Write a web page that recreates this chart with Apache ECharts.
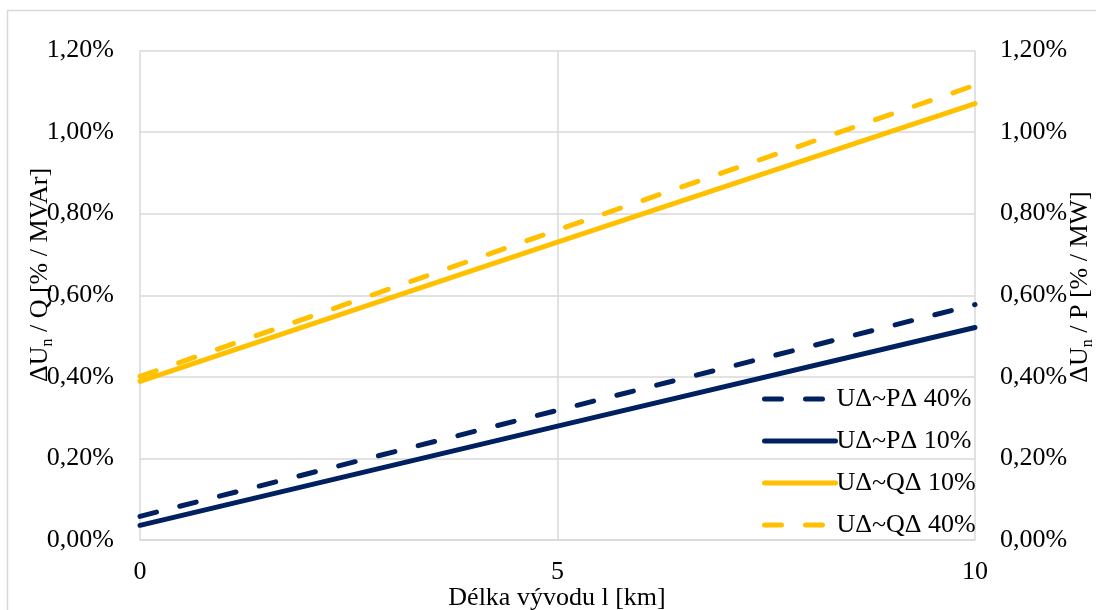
<!DOCTYPE html>
<html>
<head>
<meta charset="utf-8">
<script src="https://cdn.jsdelivr.net/npm/echarts@6/dist/echarts.min.js"></script>
<style>
  html, body { margin: 0; padding: 0; background: #ffffff; }
  #chart { width: 1096px; height: 610px; }
</style>
</head>
<body>
<div id="chart"></div>
<script>
// Feeder length [km]
const distanceKm = [0, 5, 10];

// Voltage change per unit of power [%]
const pDelta40 = [0.058, 0.318, 0.577];
const pDelta10 = [0.036, 0.279, 0.521];
const qDelta10 = [0.389, 0.730, 1.070];
const qDelta40 = [0.401, 0.760, 1.115];

const seriesNames = ['UΔ~PΔ 40%', 'UΔ~PΔ 10%', 'UΔ~QΔ 10%', 'UΔ~QΔ 40%'];

const yTicks = { min: 0, max: 1.2, step: 0.2 };
const xTicks = { min: 0, max: 10, step: 5 };

const NAVY = '#002060';
const GOLD = '#FFC000';
const GRID = '#d9d9d9';
const FONT = "'Liberation Serif', 'Times New Roman', serif";
const FS = 26;
const LW = 5;
const DASH = [17, 24];

const pct = v => v.toFixed(2).replace('.', ',') + '%';
const pairs = ys => distanceKm.map((x, i) => [x, ys[i]]);

function lineSeries(name, values, color, dashed, yAxisIndex) {
  return {
    name: name,
    type: 'line',
    yAxisIndex: yAxisIndex,
    data: pairs(values),
    showSymbol: false,
    silent: true,
    lineStyle: {
      color: color,
      width: LW,
      type: dashed ? DASH : 'solid',
      cap: 'round'
    },
    itemStyle: { color: color }
  };
}

const valueAxisY = position => ({
  type: 'value',
  position: position,
  min: yTicks.min,
  max: yTicks.max,
  interval: yTicks.step,
  axisLine: { show: false },
  axisTick: { show: false },
  splitLine: { show: position === 'left', lineStyle: { color: GRID, width: 1.5 } },
  axisLabel: {
    formatter: pct,
    color: '#000',
    fontFamily: FONT,
    fontSize: FS,
    margin: position === 'left' ? 26 : 25
  }
});

const titleRich = {
  t: { fontFamily: FONT, fontSize: FS, lineHeight: 32, fill: '#000' },
  s: { fontFamily: FONT, fontSize: 16, lineHeight: 16, verticalAlign: 'bottom', fill: '#000' }
};

const chart = echarts.init(document.getElementById('chart'), null, { renderer: 'canvas' });

chart.setOption({
  animation: false,
  backgroundColor: '#ffffff',
  grid: { left: 140, right: 121, top: 50.5, bottom: 70, containLabel: false },
  xAxis: {
    type: 'value',
    min: xTicks.min,
    max: xTicks.max,
    interval: xTicks.step,
    axisLine: { show: true, lineStyle: { color: GRID, width: 1.5 } },
    axisTick: { show: false },
    splitLine: { show: true, lineStyle: { color: GRID, width: 1.5 } },
    axisLabel: { color: '#000', fontFamily: FONT, fontSize: FS, margin: 19 }
  },
  yAxis: [valueAxisY('left'), valueAxisY('right')],
  legend: {
    orient: 'vertical',
    left: 757,
    top: 381,
    itemWidth: 71,
    itemHeight: 14,
    itemGap: 16,
    data: seriesNames,
    itemStyle: { opacity: 0 },
    lineStyle: { width: LW, cap: 'round' },
    textStyle: { color: '#000', fontFamily: FONT, fontSize: FS, lineHeight: 26, padding: [0, 0, 0, -4] }
  },
  series: [
    lineSeries(seriesNames[0], pDelta40, NAVY, true, 0),
    lineSeries(seriesNames[1], pDelta10, NAVY, false, 0),
    lineSeries(seriesNames[2], qDelta10, GOLD, false, 1),
    lineSeries(seriesNames[3], qDelta40, GOLD, true, 1)
  ],
  graphic: [
    {
      type: 'rect',
      silent: true,
      shape: { x: 7.5, y: 10.5, width: 1200, height: 700 },
      style: { fill: 'none', stroke: GRID, lineWidth: 1.5 }
    },
    {
      type: 'text',
      silent: true,
      x: 40, y: 275,
      rotation: Math.PI / 2,
      style: {
        text: '{t|ΔU}{s|n}{t| / Q [% / MVAr]}',
        align: 'center',
        verticalAlign: 'middle',
        rich: titleRich
      }
    },
    {
      type: 'text',
      silent: true,
      x: 1080, y: 287,
      rotation: Math.PI / 2,
      style: {
        text: '{t|ΔU}{s|n}{t| / P [% / MW]}',
        align: 'center',
        verticalAlign: 'middle',
        rich: titleRich
      }
    },
    {
      type: 'text',
      silent: true,
      x: 557, y: 598,
      style: {
        text: 'Délka vývodu l [km]',
        align: 'center',
        verticalAlign: 'middle',
        fontFamily: FONT,
        fontSize: FS,
        fill: '#000'
      }
    }
  ]
});
</script>
</body>
</html>
